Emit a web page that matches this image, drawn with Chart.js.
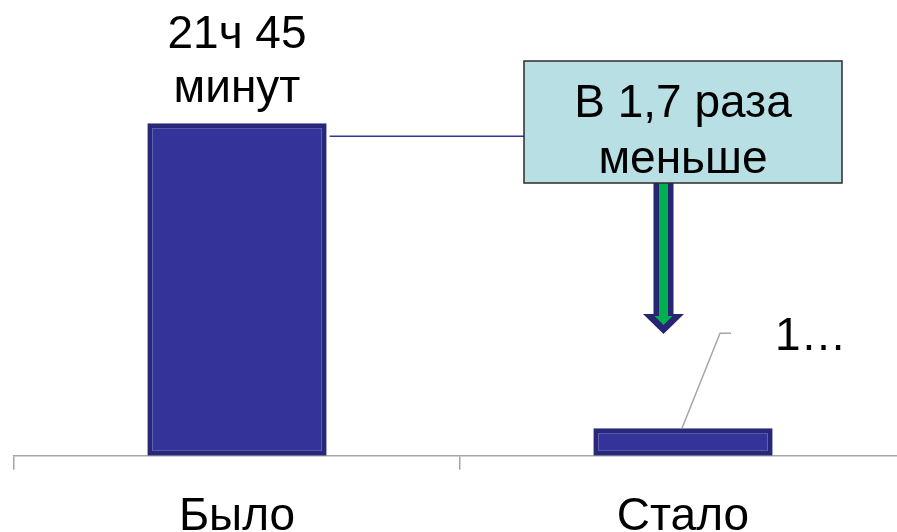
<!DOCTYPE html>
<html lang="ru">
<head>
<meta charset="utf-8">
<script src="https://cdn.jsdelivr.net/npm/chart.js@4.4.0/dist/chart.umd.min.js"></script>
<style>
    html, body { margin: 0; padding: 0; background: #fff; overflow: hidden; }
    #wrap { position: relative; width: 906px; height: 565px; }
</style>
</head>
<body>
<div id="wrap"><canvas id="timeChart"></canvas></div>
<script>
// Данные диаграммы
const categories = ['Было', 'Стало'];
const hours = [21.75, 1.8];
const valueLabels = [['21ч 45', 'минут'], ['1…']];
const calloutLines = ['В 1,7 раза', 'меньше'];
const yMax = 29.8;

const FONT = '"Liberation Sans", Arial, sans-serif';

// Подписи, выноска и стрелка поверх столбцов
const calloutPlugin = {
    id: 'callout',
    afterDatasetsDraw(chart) {
        const ctx = chart.ctx;
        const bars = chart.getDatasetMeta(0).data;
        const b1 = bars[0], b2 = bars[1];
        const top = chart.chartArea.top;

        ctx.save();
        ctx.fillStyle = '#000';
        ctx.textBaseline = 'alphabetic';

        // подпись первого столбца
        ctx.font = '46px ' + FONT;
        ctx.textAlign = 'center';
        const l1 = valueLabels[0];
        l1.forEach((t, i) => {
            ctx.fillText(t, b1.x, b1.y - 21 - (l1.length - 1 - i) * 54);
        });

        // линия-выноска и подпись второго столбца
        ctx.strokeStyle = '#a6a6a6';
        ctx.lineWidth = 1.5;
        ctx.beginPath();
        ctx.moveTo(b2.x - 1, b2.y);
        ctx.lineTo(b2.x + 37, b2.y - 95);
        ctx.lineTo(b2.x + 48, b2.y - 95);
        ctx.stroke();
        ctx.font = '46px ' + FONT;
        ctx.textAlign = 'left';
        ctx.fillText(valueLabels[1][0], b2.x + 92, b2.y - 78);

        // соединительная линия от первого столбца к выноске
        const boxL = b2.x - 159, boxR = b2.x + 159;
        const boxT = top + 61, boxB = top + 183;
        ctx.strokeStyle = '#333399';
        ctx.lineWidth = 1.5;
        ctx.beginPath();
        ctx.moveTo(b1.x + b1.width / 2 + 3, b1.y + 13);
        ctx.lineTo(boxL, b1.y + 13);
        ctx.stroke();

        // стрелка вниз
        const ax = b2.x - 19.5;
        const tip = top + 334, headY = top + 314;
        ctx.fillStyle = '#262673';
        ctx.beginPath();
        ctx.moveTo(ax - 10, boxB);
        ctx.lineTo(ax + 10, boxB);
        ctx.lineTo(ax + 10, headY);
        ctx.lineTo(ax + 20.5, headY);
        ctx.lineTo(ax, tip);
        ctx.lineTo(ax - 20.5, headY);
        ctx.lineTo(ax - 10, headY);
        ctx.closePath();
        ctx.fill();
        ctx.fillStyle = '#00b050';
        ctx.beginPath();
        ctx.moveTo(ax - 4.5, boxB);
        ctx.lineTo(ax + 4.5, boxB);
        ctx.lineTo(ax + 4.5, headY + 2);
        ctx.lineTo(ax + 9, headY + 2);
        ctx.lineTo(ax, tip - 9);
        ctx.lineTo(ax - 9, headY + 2);
        ctx.lineTo(ax - 4.5, headY + 2);
        ctx.closePath();
        ctx.fill();

        // прямоугольник выноски
        ctx.fillStyle = '#b8dfe3';
        ctx.fillRect(boxL, boxT, boxR - boxL, boxB - boxT);
        ctx.strokeStyle = '#2b2b2b';
        ctx.lineWidth = 1.5;
        ctx.strokeRect(boxL, boxT, boxR - boxL, boxB - boxT);

        ctx.fillStyle = '#000';
        ctx.font = '46px ' + FONT;
        ctx.textAlign = 'center';
        ctx.fillText(calloutLines[0], b2.x, boxT + 56);
        ctx.fillText(calloutLines[1], b2.x, boxT + 112);

        ctx.restore();
    }
};

const ctx = document.getElementById('timeChart').getContext('2d');

new Chart(ctx, {
    type: 'bar',
    data: {
        labels: categories,
        datasets: [{
            data: hours,
            backgroundColor: '#333399',
            borderColor: '#28287a',
            borderWidth: 5,
            borderSkipped: false,
            barPercentage: 0.402,
            categoryPercentage: 1
        }]
    },
    options: {
        responsive: true,
        maintainAspectRatio: false,
        animation: false,
        layout: {
            padding: { left: 14, right: 0, top: 0, bottom: 0 }
        },
        plugins: {
            legend: { display: false },
            tooltip: { enabled: false }
        },
        scales: {
            y: {
                display: false,
                min: 0,
                max: yMax
            },
            x: {
                grid: {
                    offset: true,
                    drawOnChartArea: false,
                    drawTicks: true,
                    tickLength: 14,
                    color: '#a6a6a6',
                    lineWidth: 1.5
                },
                border: {
                    display: true,
                    color: '#a6a6a6',
                    width: 1.5
                },
                ticks: {
                    color: '#000',
                    padding: 20,
                    font: { family: FONT, size: 46 }
                }
            }
        }
    },
    plugins: [calloutPlugin]
});
</script>
</body>
</html>
